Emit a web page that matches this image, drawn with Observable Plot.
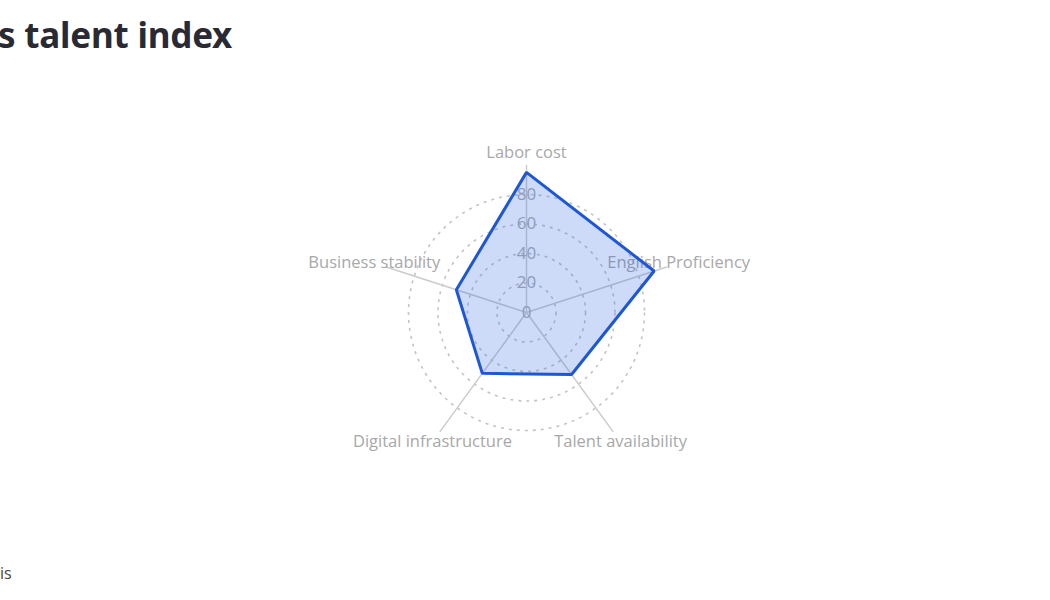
<!DOCTYPE html>
<html>
<head>
<meta charset="utf-8">
<script src="https://cdn.jsdelivr.net/npm/d3@7"></script>
<script src="https://cdn.jsdelivr.net/npm/@observablehq/plot@0.6"></script>
<style>
  html, body { margin: 0; padding: 0; background: #fff; overflow: hidden; }
  body { width: 1050px; height: 600px; font-family: "Open Sans", sans-serif; }
  #title { height: 80px; position: relative; }
  #title span { position: absolute; left: -2px; top: 11px; font-family: "Noto Sans", sans-serif; font-weight: 700; font-size: 35px; color: #2a2a33; letter-spacing: -0.2px; white-space: nowrap; }
  #caption { position: relative; height: 50px; }
  #caption span { position: absolute; left: 0px; top: 12px; font-size: 16px; color: #444; }
  svg { display: block; }
</style>
</head>
<body>
<div id="title"><span>s talent index</span></div>
<div id="chart"></div>
<div id="caption"><span>is</span></div>
<script>
const axes = ["Labor cost", "English Proficiency", "Talent availability", "Digital infrastructure", "Business stability"];
const values = [95, 91, 52, 51, 50];
const rings = [20, 40, 60, 80];
const tickLabels = [0, 20, 40, 60, 80];
const axisMax = 100;
const labelRadius = 108.5;

const W = 1050, H = 470;
const cx = 526, cy = 232, pxPerUnit = 1.475;

const angle = (i) => i * 2 * Math.PI / axes.length;
const data = axes.map((name, i) => ({name, i, value: values[i]}));

const px = (r, i) => r * Math.sin(angle(i));
const py = (r, i) => r * Math.cos(angle(i));

const chart = Plot.plot({
  width: W,
  height: H,
  margin: 0,
  style: {fontFamily: "Open Sans, sans-serif", background: "#fff"},
  x: {type: "linear", domain: [-cx / pxPerUnit, (W - cx) / pxPerUnit], range: [0, W], axis: null},
  y: {type: "linear", domain: [-(H - cy) / pxPerUnit, cy / pxPerUnit], range: [H, 0], axis: null},
  r: {type: "linear", domain: [0, axisMax], range: [0, axisMax * pxPerUnit]},
  marks: [
    Plot.dot(rings, {x: () => 0, y: () => 0, r: d => d, fill: "none", stroke: "#c4c4c4", strokeWidth: 1.6, strokeDasharray: "3,5"}),
    Plot.link(data, {x1: () => 0, y1: () => 0, x2: d => px(axisMax, d.i), y2: d => py(axisMax, d.i), stroke: "#cccccc", strokeWidth: 1.5}),
    Plot.text(tickLabels, {x: () => 0, y: d => d, text: d => String(d), fill: "#adadad", fontSize: 17}),
    Plot.text(data, {x: d => px(labelRadius, d.i), y: d => py(labelRadius, d.i), text: "name", fill: "#a8a8a8", fontSize: 16.5}),
    Plot.line(data, {x: d => px(d.value, d.i), y: d => py(d.value, d.i), curve: "linear-closed", fill: "#2f66e0", fillOpacity: 0.24, stroke: "none"}),
    Plot.line(data, {x: d => px(d.value, d.i), y: d => py(d.value, d.i), curve: "linear-closed", stroke: "#1d57d3", strokeWidth: 3, strokeLinejoin: "miter"})
  ]
});
document.getElementById("chart").appendChild(chart);
</script>
</body>
</html>
